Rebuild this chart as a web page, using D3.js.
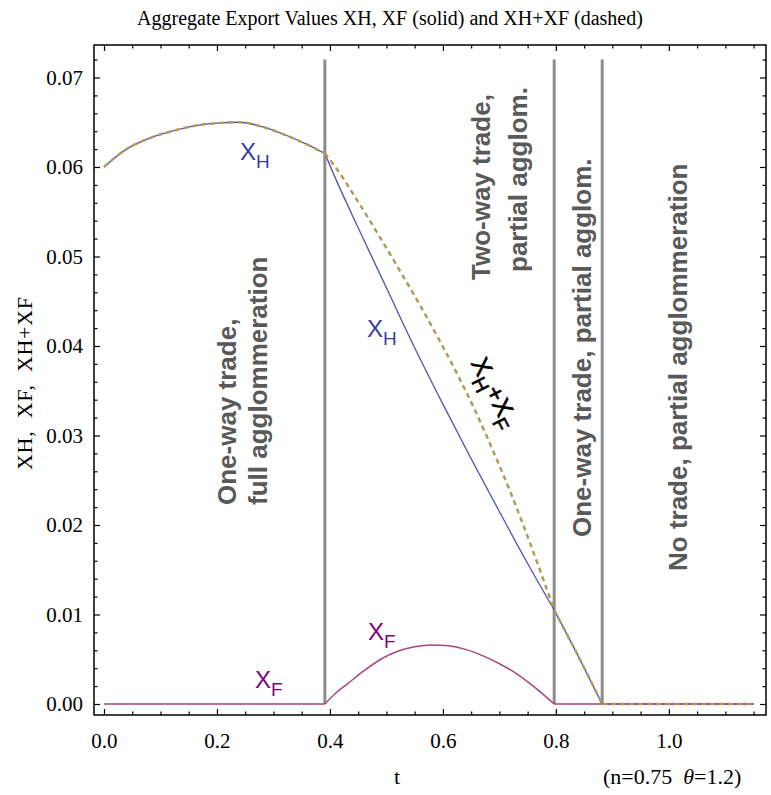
<!DOCTYPE html>
<html>
<head>
<meta charset="utf-8">
<script src="https://cdnjs.cloudflare.com/ajax/libs/d3/7.8.5/d3.min.js"></script>
<style>
body { margin: 0; background: #fff; }
svg { display: block; }
.tick text { font-family: "Liberation Serif", "Times New Roman", serif; font-size: 21px; fill: #000; }
.tick line { stroke: #000; stroke-width: 1.2; }
.serif { font-family: "Liberation Serif", "Times New Roman", serif; fill: #000; }
.region { font-family: "Liberation Sans", Arial, sans-serif; font-weight: bold; font-size: 26px; fill: #595959; }
.lbl { font-family: "Liberation Sans", Arial, sans-serif; font-size: 24px; }
</style>
</head>
<body>
<script>
//W and H
var w = 771;
var h = 795;

//XH (solid blue)
var xhT = [0, 0.04, 0.08, 0.12, 0.16, 0.20, 0.24, 0.28, 0.32, 0.36, 0.391, 0.41, 0.45, 0.50, 0.55, 0.60, 0.65, 0.70, 0.75, 0.797, 0.84, 0.882, 1.15];
var xhV = [0.0600, 0.0620, 0.0632, 0.0640, 0.0646, 0.0649, 0.0650, 0.0645, 0.0636, 0.0625, 0.0615, 0.0587, 0.0532, 0.0465, 0.0398, 0.0335, 0.0274, 0.0215, 0.0157, 0.0105, 0.0053, 0, 0];

//XF (solid magenta)
var xfT = [0, 0.391, 0.41, 0.43, 0.46, 0.49, 0.52, 0.55, 0.58, 0.61, 0.64, 0.67, 0.70, 0.73, 0.76, 0.797, 0.882, 1.15];
var xfV = [0, 0, 0.0012, 0.0022, 0.0037, 0.0050, 0.0059, 0.0064, 0.0066, 0.0065, 0.0061, 0.0054, 0.0045, 0.0034, 0.0020, 0, 0, 0];

//XH+XF (dashed)
var sumT = [0, 0.04, 0.08, 0.12, 0.16, 0.20, 0.24, 0.28, 0.32, 0.36, 0.391, 0.405, 0.448, 0.488, 0.524, 0.559, 0.595, 0.625, 0.657, 0.688, 0.72, 0.76, 0.797, 0.84, 0.882, 1.15];
var sumV = [0.0600, 0.0620, 0.0632, 0.0640, 0.0646, 0.0649, 0.0650, 0.0645, 0.0636, 0.0625, 0.0615, 0.0604, 0.0563, 0.0522, 0.0484, 0.0446, 0.0405, 0.0369, 0.0328, 0.0284, 0.0236, 0.0170, 0.0105, 0.0053, 0, 0];

//regime boundaries (gray verticals)
var bounds = [0.391, 0.797, 0.882];
var boundTop = 0.072;
var tMin = 0, tMax = 1.15;

//ticks
var xMajor = [0, 0.2, 0.4, 0.6, 0.8, 1.0];
var yMajor = [0, 0.01, 0.02, 0.03, 0.04, 0.05, 0.06, 0.07];

//Scales
var x = d3.scaleLinear().domain([-0.0177, 1.172]).range([94, 766]);
var y = d3.scaleLinear().domain([-0.00123, 0.07363]).range([715, 45]);

var xMinor = d3.range(0, 1.16, 0.05).filter(function(v) { return Math.abs(v / 0.2 - Math.round(v / 0.2)) > 0.01; });
var yMinor = d3.range(0, 0.073, 0.002).filter(function(v) { return Math.abs(v / 0.01 - Math.round(v / 0.01)) > 0.01; });

var svg = d3.select("body").append("svg")
    .attr("width", w)
    .attr("height", h);

//title
svg.append("text")
    .attr("class", "serif")
    .attr("x", 390)
    .attr("y", 25)
    .attr("text-anchor", "middle")
    .style("font-size", "20px")
    .text("Aggregate Export Values XH, XF (solid) and XH+XF (dashed)");

//axes (ticks inside frame, all four sides)
function addAxis(gen, tr, vals, size, fmt, pad) {
    var g = svg.append("g")
        .attr("transform", tr)
        .call(gen.tickValues(vals).tickSize(size).tickPadding(pad).tickFormat(fmt));
    g.select(".domain").remove();
    return g;
}
var noLabel = function() { return ""; };

addAxis(d3.axisBottom(x), "translate(0,715)", xMajor, -6, d3.format(".1f"), 18);
addAxis(d3.axisBottom(x), "translate(0,715)", xMinor, -3.5, noLabel, 0);
addAxis(d3.axisTop(x), "translate(0,45)", xMajor, -6, noLabel, 0);
addAxis(d3.axisTop(x), "translate(0,45)", xMinor, -3.5, noLabel, 0);
addAxis(d3.axisLeft(y), "translate(94,0)", yMajor, -6, d3.format(".2f"), 11);
addAxis(d3.axisLeft(y), "translate(94,0)", yMinor, -3.5, noLabel, 0);
addAxis(d3.axisRight(y), "translate(766,0)", yMajor, -6, noLabel, 0);
addAxis(d3.axisRight(y), "translate(766,0)", yMinor, -3.5, noLabel, 0);

//frame
svg.append("rect")
    .attr("x", x.range()[0])
    .attr("y", y.range()[1])
    .attr("width", x.range()[1] - x.range()[0])
    .attr("height", y.range()[0] - y.range()[1])
    .attr("fill", "none")
    .attr("stroke", "#000")
    .attr("stroke-width", 1.5);

//axis labels
svg.append("text")
    .attr("class", "serif")
    .attr("transform", "translate(32,383.5) rotate(-90)")
    .attr("text-anchor", "middle")
    .attr("textLength", 173)
    .attr("lengthAdjust", "spacing")
    .style("font-size", "22px")
    .style("white-space", "pre")
    .text("XH,  XF,  XH+XF");

svg.append("text")
    .attr("class", "serif")
    .attr("x", 397)
    .attr("y", 784)
    .attr("text-anchor", "middle")
    .style("font-size", "22px")
    .text("t");

var note = svg.append("text")
    .attr("class", "serif")
    .attr("x", 603)
    .attr("y", 784)
    .style("font-size", "22px")
    .style("white-space", "pre");
note.append("tspan").text("(n=0.75  ");
note.append("tspan").style("font-style", "italic").text("θ");
note.append("tspan").text("=1.2)");

//regime boundaries
svg.selectAll(".bound")
    .data(bounds)
    .enter().append("line")
    .attr("class", "bound")
    .attr("x1", function(d) { return x(d); })
    .attr("x2", function(d) { return x(d); })
    .attr("y1", y(0))
    .attr("y2", y(boundTop))
    .attr("stroke", "#8c8c8c")
    .attr("stroke-width", 3);

//curves: smooth inside each regime, sharp corners at the boundaries
var line = d3.line()
    .curve(d3.curveMonotoneX)
    .x(function(d) { return x(d[0]); })
    .y(function(d) { return y(d[1]); });

var edges = [tMin].concat(bounds, [tMax]);

function drawSeries(ts, vs, color, width, dash) {
    var pts = d3.zip(ts, vs);
    for (var i = 0; i < edges.length - 1; i++) {
        var a = edges[i], b = edges[i + 1];
        var seg = pts.filter(function(p) { return p[0] >= a - 1e-9 && p[0] <= b + 1e-9; });
        if (seg.length < 2) continue;
        svg.append("path")
            .datum(seg)
            .attr("d", line)
            .attr("fill", "none")
            .attr("stroke", color)
            .attr("stroke-width", width)
            .attr("stroke-dasharray", dash || null);
    }
}

drawSeries(xhT, xhV, "#5050b8", 1.3);
drawSeries(xfT, xfV, "#a8457f", 1.5);
drawSeries(sumT, sumV, "#b19b58", 2.5, "5,4");

//curve labels
function subLabel(t, v, main, sub, color) {
    var txt = svg.append("text")
        .attr("class", "lbl")
        .attr("x", x(t))
        .attr("y", y(v))
        .attr("fill", color);
    txt.append("tspan").text(main);
    txt.append("tspan").attr("dy", 8).style("font-size", "19px").text(sub);
}
subLabel(0.2407, 0.0608, "X", "H", "#3b3b9e");
subLabel(0.4655, 0.0410, "X", "H", "#3b3b9e");
subLabel(0.2673, 0.0018, "X", "F", "#800080");
subLabel(0.4673, 0.00715, "X", "F", "#800080");

var sumLbl = svg.append("text")
    .attr("class", "lbl")
    .attr("fill", "#000")
    .attr("stroke", "#000")
    .attr("stroke-width", 0.6)
    .style("font-size", "25px")
    .attr("transform", "translate(" + x(0.649) + "," + y(0.0381) + ") rotate(63)");
sumLbl.append("tspan").text("X");
sumLbl.append("tspan").attr("dy", 8).style("font-size", "20px").text("H");
sumLbl.append("tspan").attr("dy", -8).text("+X");
sumLbl.append("tspan").attr("dy", 8).style("font-size", "20px").text("F");

//regime labels (rotated)
function vText(t, v, str) {
    svg.append("text")
        .attr("class", "region")
        .attr("transform", "translate(" + x(t) + "," + y(v) + ") rotate(-90)")
        .text(str);
}
vText(0.2329, 0.02223, "One-way trade,");
vText(0.2878, 0.02223, "full agglommeration");
vText(0.6842, 0.04737, "Two-way trade,");
vText(0.7480, 0.04827, "partial agglom.");
vText(0.8619, 0.01866, "One-way trade, partial agglom.");
vText(1.0319, 0.01486, "No trade, partial agglommeration");
</script>
</body>
</html>
